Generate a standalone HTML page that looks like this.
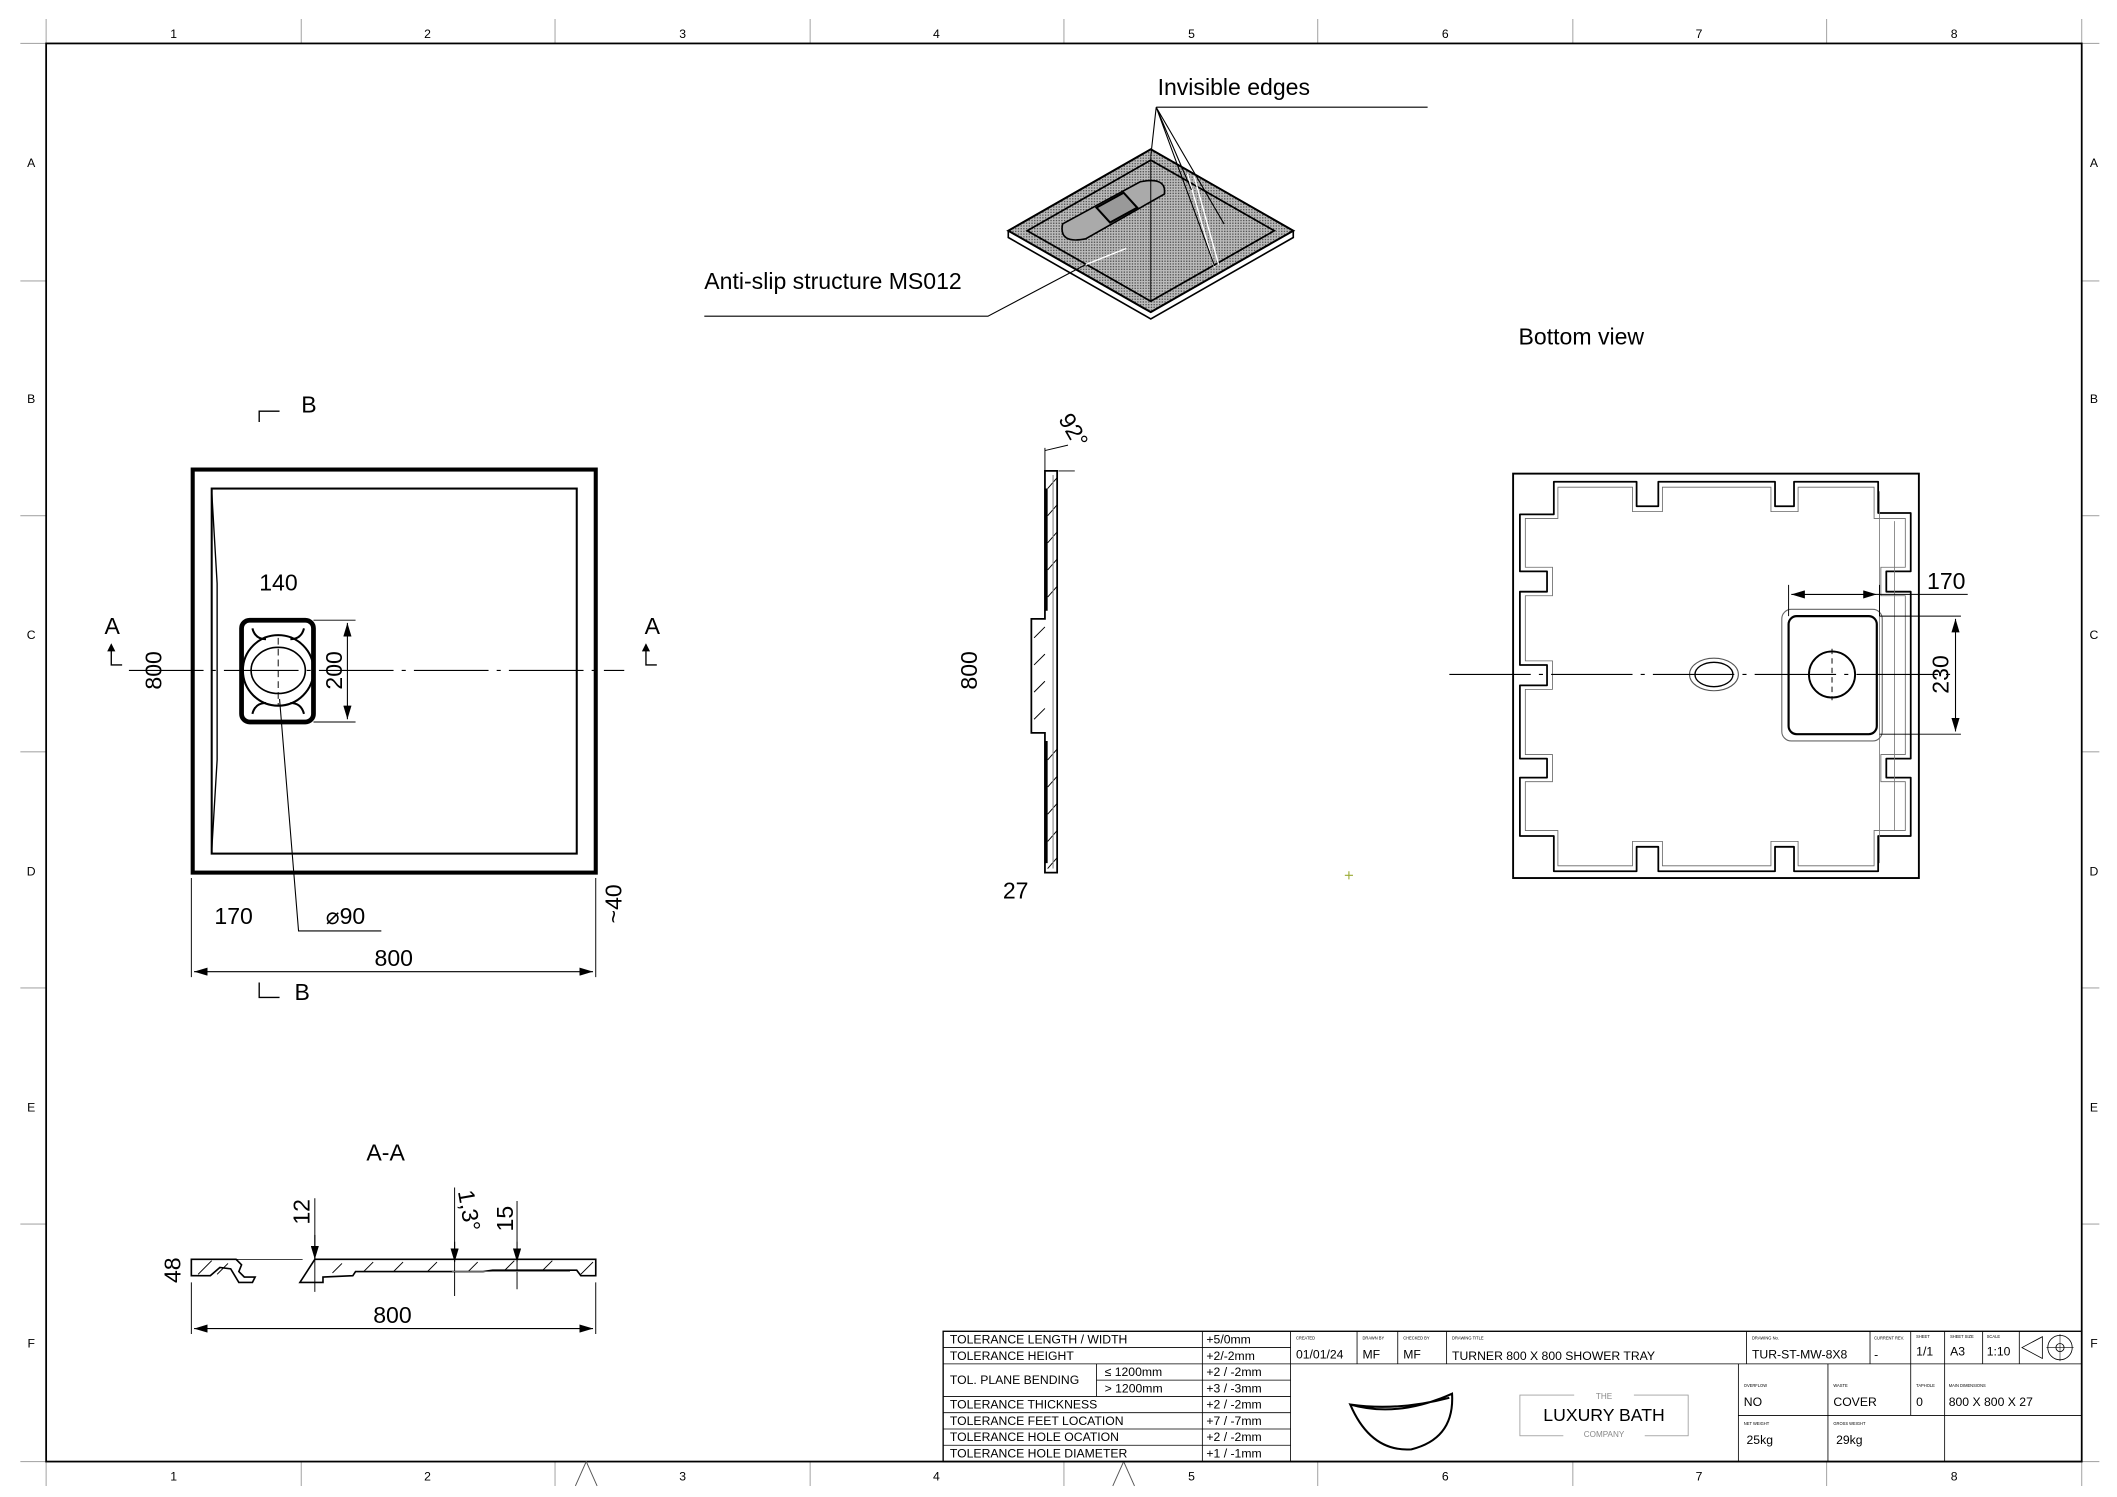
<!DOCTYPE html>
<html><head><meta charset="utf-8"><style>
html,body{margin:0;padding:0;background:#fff;}
svg{display:block;}
text{font-family:"Liberation Sans",sans-serif;fill:#000;}
.t{font-size:17px;}
.s{font-size:9px;}
.xs{font-size:3px;fill:#555;}
.g{font-size:9px;fill:#000;}
</style></head><body>
<svg width="2117" height="1497" viewBox="0 0 1560 1103.1" xmlns="http://www.w3.org/2000/svg">
<defs>
<pattern id="h" width="2" height="2" patternUnits="userSpaceOnUse"><rect width="2" height="2" fill="#bbb"/><rect width="1" height="1" fill="#555"/></pattern>
<marker id="ar" viewBox="0 0 10 6" refX="10" refY="3" markerWidth="10" markerHeight="6" orient="auto-start-reverse" markerUnits="userSpaceOnUse"><path d="M0,0L10,3L0,6z" fill="#000"/></marker>
</defs>
<!-- zone frame -->
<g stroke="#aaa" stroke-width="0.8" fill="none">
<line x1="15" y1="32" x2="34" y2="32"/><line x1="1534" y1="32" x2="1547" y2="32"/>
<line x1="15" y1="1077" x2="34" y2="1077"/><line x1="1534" y1="1077" x2="1547" y2="1077"/>
<path d="M34 14V32M222 14V32M409 14V32M597 14V32M784 14V32M971 14V32M1159 14V32M1346 14V32M1534 14V32"/>
<path d="M34 1077V1095M222 1077V1095M409 1077V1095M597 1077V1095M784 1077V1095M971 1077V1095M1159 1077V1095M1346 1077V1095M1534 1077V1095"/>
<path d="M15 207H34M15 380H34M15 554H34M15 728H34M15 902H34M1534 207H1547M1534 380H1547M1534 554H1547M1534 728H1547M1534 902H1547"/>
</g>
<rect x="34" y="32" width="1500" height="1045" fill="none" stroke="#000" stroke-width="1.3"/>
<g class="g" text-anchor="middle">
<text x="128" y="28">1</text><text x="315" y="28">2</text><text x="503" y="28">3</text><text x="690" y="28">4</text><text x="878" y="28">5</text><text x="1065" y="28">6</text><text x="1252" y="28">7</text><text x="1440" y="28">8</text>
<text x="128" y="1091">1</text><text x="315" y="1091">2</text><text x="503" y="1091">3</text><text x="690" y="1091">4</text><text x="878" y="1091">5</text><text x="1065" y="1091">6</text><text x="1252" y="1091">7</text><text x="1440" y="1091">8</text>
<text x="23" y="123">A</text><text x="23" y="297">B</text><text x="23" y="471">C</text><text x="23" y="645">D</text><text x="23" y="819">E</text><text x="23" y="993">F</text>
<text x="1543" y="123">A</text><text x="1543" y="297">B</text><text x="1543" y="471">C</text><text x="1543" y="645">D</text><text x="1543" y="819">E</text><text x="1543" y="993">F</text>
</g>
<path d="M424 1095L432 1077L440 1095M820 1095L828 1077L836 1095" stroke="#555" fill="none" stroke-width="0.7"/>

<!-- ISO view -->
<g>
<path d="M743 170L848 110L953 170L953 175L848 235L743 175Z" fill="#fff" stroke="#000" stroke-width="1.2"/>
<path d="M743 170L848 230L953 170" fill="none" stroke="#000" stroke-width="1"/>
<path d="M743 170L848 110L953 170L848 230Z" fill="url(#h)" stroke="#000" stroke-width="1.5"/>
<path d="M757 170L848 118L939 170L848 222Z" fill="url(#h)" stroke="#000" stroke-width="1.3"/>
<path d="M783 165L840 134Q860 130 858 143L800 176Q780 180 783 165Z" fill="#aaa" stroke="#000" stroke-width="1.2"/>
<path d="M808 153L828 142L838 153L818 164Z" fill="#999" stroke="#000" stroke-width="1.5"/>
<path d="M875 128L895 197M880 130L898 195" stroke="#fff" stroke-width="1"/>
<path d="M800 195L830 183" stroke="#fff" stroke-width="1"/>
<path d="M848 115V222" stroke="#000" stroke-width="0.7"/>
</g>
<text class="t" x="853" y="70">Invisible edges</text>
<path d="M852 79H1052M852 79L848 115M852 79L878 140M852 79L895 196M852 79L902 165" stroke="#000" stroke-width="0.8" fill="none"/>
<text class="t" x="519" y="213">Anti-slip structure MS012</text>
<path d="M519 233H728L800 195" stroke="#000" stroke-width="0.8" fill="none"/>

<!-- Top view -->
<g fill="none" stroke="#000">
<rect x="142" y="346" width="297" height="297" stroke-width="3"/>
<rect x="156" y="360" width="269" height="269" stroke-width="1.5"/>
<path d="M156 362L160 430L160 560L156 627" stroke-width="1"/>
<rect x="178" y="457" width="53" height="75" rx="6" stroke-width="3.5"/>
<circle cx="205" cy="494" r="26" stroke-width="1.5"/>
<ellipse cx="205" cy="494" rx="20" ry="17" stroke-width="1.2"/>
<path d="M186 463q2 8 10 8M224 463q-2 8-10 8M186 526q2-8 10-8M224 526q-2-8-10-8" stroke-width="1.5"/>
<path d="M205 470V520" stroke-dasharray="5,3" stroke-width="0.7"/>
<path d="M95 494H460" stroke-width="0.8" stroke-dasharray="55,6,3,6"/>
<path d="M231 457H262M231 532H262" stroke-width="0.7"/>
<line x1="256" y1="459" x2="256" y2="530" stroke-width="0.8" marker-start="url(#ar)" marker-end="url(#ar)"/>
<path d="M141 647V720M439 647V720" stroke-width="0.7"/>
<line x1="143" y1="716" x2="437" y2="716" stroke-width="0.8" marker-start="url(#ar)" marker-end="url(#ar)"/>
<path d="M206 515L220 686H281" stroke-width="0.8"/>
<path d="M191 311V303H206M191 724V735H206" stroke-width="1"/>
<path d="M82 475V490H90M476 475V490H484" stroke-width="1"/>
</g>
<path d="M79 480L82 474L85 480ZM473 480L476 474L479 480Z" fill="#000"/>
<text class="t" x="222" y="304">B</text><text class="t" x="217" y="737">B</text>
<text class="t" x="77" y="467">A</text><text class="t" x="475" y="467">A</text>
<text class="t" x="191" y="435">140</text>
<text class="t" transform="translate(119,494) rotate(-90)" text-anchor="middle">800</text>
<text class="t" transform="translate(252,494) rotate(-90)" text-anchor="middle">200</text>
<text class="t" x="158" y="681">170</text>
<text class="t" x="240" y="681">⌀90</text>
<text class="t" x="276" y="712">800</text>
<text class="t" transform="translate(458,666) rotate(-90)" text-anchor="middle">~40</text>

<!-- Side view -->
<g fill="none" stroke="#000">
<path d="M770 347H779V643H770V540H760V456H770Z" stroke-width="1.3" fill="#fff"/>
<path d="M772 360L779 352M772 380L779 372M772 400L779 392M772 420L779 412M772 440L779 432M762 470L770 462M762 490L770 482M762 510L770 502M762 530L770 522M772 560L779 552M772 580L779 572M772 600L779 592M772 620L779 612M772 640L779 632" stroke-width="0.7"/>
<path d="M771 360V450M771 546V636" stroke-width="2"/>
<path d="M776 350V640" stroke="#888" stroke-width="0.8"/>
<path d="M770 347V330M770 332L787 328M780 347H792" stroke-width="0.7"/>
</g>
<text class="t" transform="translate(720,494) rotate(-90)" text-anchor="middle">800</text>
<text class="t" x="739" y="662">27</text>
<text class="t" transform="translate(786,320) rotate(60)" text-anchor="middle">92°</text>
<path d="M991 645h6M994 642v6" stroke="#9a3" stroke-width="0.8"/>

<!-- Bottom view -->
<text class="t" x="1119" y="254">Bottom view</text>
<g fill="none" stroke="#000">
<rect x="1115" y="349" width="299" height="298" stroke-width="1.4"/>
<path d="M1145 355H1206V373H1222V355H1308V373H1322V355H1384V378H1408V421H1390V436H1408V559H1390V573H1408V616H1384V642H1322V624H1308V642H1222V624H1206V642H1145V616H1120V573H1140V559H1120V505H1140V490H1120V436H1140V421H1120V379H1145Z" stroke-width="1.3" stroke-linejoin="round"/>
<path d="M1148 359H1203V377H1225V359H1305V377H1325V359H1381V382H1404V418H1386V439H1404V556H1386V576H1404V612H1381V638H1325V620H1305V638H1225V620H1203V638H1148V612H1124V576H1144V556H1124V508H1144V487H1124V439H1144V418H1124V382H1148Z" stroke="#666" stroke-width="0.6"/>
<path d="M1396 384V612M1385 362V636" stroke="#777" stroke-width="0.6"/>
<rect x="1313" y="449" width="74" height="97" rx="7" stroke="#666" stroke-width="0.8"/>
<rect x="1318" y="454" width="65" height="87" rx="6" stroke-width="1.6"/>
<circle cx="1350" cy="497" r="17" stroke-width="1.4"/>
<path d="M1350 478V516" stroke-dasharray="4,3" stroke-width="0.7"/>
<ellipse cx="1263" cy="497" rx="18" ry="12" stroke="#555" stroke-width="0.8"/>
<ellipse cx="1263" cy="497" rx="14" ry="9" stroke-width="1"/>
<path d="M1068 497H1440" stroke-width="0.8" stroke-dasharray="60,6,3,6"/>
<path d="M1318 431V454M1385 431V454" stroke-width="0.7"/>
<line x1="1320" y1="438" x2="1383" y2="438" stroke-width="0.8" marker-start="url(#ar)" marker-end="url(#ar)"/>
<path d="M1383 438H1450" stroke-width="0.7"/>
<path d="M1385 454H1445M1385 541H1445" stroke-width="0.7"/>
<line x1="1441" y1="456" x2="1441" y2="539" stroke-width="0.8" marker-start="url(#ar)" marker-end="url(#ar)"/>
</g>
<text class="t" x="1420" y="434">170</text>
<text class="t" transform="translate(1436,497) rotate(-90)" text-anchor="middle">230</text>

<!-- Section A-A -->
<text class="t" x="270" y="855">A-A</text>
<g fill="none" stroke="#000" stroke-width="1.2">
<path d="M141 928H174L178 932L176 937L180 941H188L186 945H176L170 935L162 934L155 940H141Z" fill="#fff"/>
<path d="M232 928L439 928V940H428L425 936H363L356 937H262L260 940L238 941V945H221Z" fill="#fff"/>
<path d="M146 939L156 929M160 939L168 931M245 938L252 931M268 937L275 930M290 937L297 930M315 937L322 930M345 937L352 930M372 936L379 929M400 936L407 929M428 939L437 930" stroke-width="0.7"/>
<path d="M223 928H141" stroke-width="0.6"/>
<path d="M232 883V952M335 875V955M381 885V950" stroke-width="0.7"/>
<line x1="232" y1="910" x2="232" y2="928" stroke-width="0.8" marker-end="url(#ar)"/>
<line x1="335" y1="915" x2="335" y2="930" stroke-width="0.8" marker-end="url(#ar)"/>
<line x1="381" y1="915" x2="381" y2="930" stroke-width="0.8" marker-end="url(#ar)"/>
<path d="M333 937H420" stroke="#777" stroke-width="0.7"/>
<path d="M141 945V983M439 945V983" stroke-width="0.7"/>
<line x1="143" y1="979" x2="437" y2="979" stroke-width="0.8" marker-start="url(#ar)" marker-end="url(#ar)"/>
</g>
<text class="t" transform="translate(133,936) rotate(-90)" text-anchor="middle">48</text>
<text class="t" transform="translate(228,893) rotate(-90)" text-anchor="middle">12</text>
<text class="t" transform="translate(340,893) rotate(80)" text-anchor="middle">1,3°</text>
<text class="t" transform="translate(378,898) rotate(-90)" text-anchor="middle">15</text>
<text class="t" x="275" y="975">800</text>

<!-- Title block -->
<g fill="none" stroke="#000" stroke-width="0.6">
<rect x="695" y="981" width="839" height="96" stroke-width="1"/>
<path d="M695 993H951M695 1005H1534M808 1017H951M695 1029H951M695 1041H951M695 1053H951M695 1065H951"/>
<path d="M886 981V1077M951 981V1077M808 1005V1029"/>
<path d="M1000 981V1005M1030 981V1005M1066 981V1005M1287 981V1005M1378 981V1005M1408 981V1043M1433 981V1077M1461 981V1005M1488 981V1005"/>
<path d="M1281 1005V1077M1347 1005V1077M1281 1043H1534"/>
<rect x="1120" y="1028" width="124" height="30" stroke="#999"/>
<path d="M995 1035Q1030 1045 1070 1027Q1072 1060 1040 1068Q1010 1070 995 1035ZM995 1035Q1030 1040 1068 1030" stroke-width="1.5"/>
<path d="M1490 993L1505 985V1001Z"/>
<circle cx="1518" cy="993" r="9"/><circle cx="1518" cy="993" r="3"/>
<path d="M1508 993H1528M1518 983V1003" stroke-width="0.4"/>
</g>
<rect x="1160" y="1024" width="44" height="8" fill="#fff"/>
<rect x="1152" y="1053" width="60" height="8" fill="#fff"/>
<g class="s">
<text x="700" y="990">TOLERANCE LENGTH / WIDTH</text><text x="889" y="990">+5/0mm</text>
<text x="700" y="1002">TOLERANCE HEIGHT</text><text x="889" y="1002">+2/-2mm</text>
<text x="700" y="1020">TOL. PLANE BENDING</text>
<text x="814" y="1014">≤  1200mm</text><text x="889" y="1014">+2 / -2mm</text>
<text x="814" y="1026">&gt;  1200mm</text><text x="889" y="1026">+3 / -3mm</text>
<text x="700" y="1038">TOLERANCE THICKNESS</text><text x="889" y="1038">+2 / -2mm</text>
<text x="700" y="1050">TOLERANCE FEET LOCATION</text><text x="889" y="1050">+7 / -7mm</text>
<text x="700" y="1062">TOLERANCE HOLE OCATION</text><text x="889" y="1062">+2 / -2mm</text>
<text x="700" y="1074">TOLERANCE HOLE DIAMETER</text><text x="889" y="1074">+1 / -1mm</text>
<text x="955" y="1001">01/01/24</text><text x="1004" y="1001">MF</text><text x="1034" y="1001">MF</text>
<text x="1070" y="1002">TURNER 800 X 800 SHOWER TRAY</text>
<text x="1291" y="1001">TUR-ST-MW-8X8</text><text x="1381" y="1001">-</text>
<text x="1412" y="999">1/1</text><text x="1437" y="999">A3</text><text x="1464" y="999">1:10</text>
<text x="1285" y="1036">NO</text><text x="1351" y="1036">COVER</text><text x="1412" y="1036">0</text><text x="1436" y="1036">800 X 800 X 27</text>
<text x="1287" y="1064">25kg</text><text x="1353" y="1064">29kg</text>
</g>
<g class="xs">
<text x="955" y="987">CREATED</text><text x="1004" y="987">DRAWN BY</text><text x="1034" y="987">CHECKED BY</text><text x="1070" y="987">DRAWING TITLE</text>
<text x="1291" y="987">DRAWING No.</text><text x="1381" y="987">CURRENT REV.</text><text x="1412" y="986">SHEET</text><text x="1437" y="986">SHEET SIZE</text><text x="1464" y="986">SCALE</text>
<text x="1285" y="1022">OVERFLOW</text><text x="1351" y="1022">WASTE</text><text x="1412" y="1022">TAPHOLE</text><text x="1436" y="1022">MAIN DIMENSIONS</text>
<text x="1285" y="1050">NET WEIGHT</text><text x="1351" y="1050">GROSS WEIGHT</text>
</g>
<text x="1182" y="1031" text-anchor="middle" style="font-size:6px;fill:#888">THE</text>
<text x="1182" y="1047" text-anchor="middle" style="font-size:13px">LUXURY BATH</text>
<text x="1182" y="1059" text-anchor="middle" style="font-size:6px;fill:#888">COMPANY</text>
</svg>
</body></html>
